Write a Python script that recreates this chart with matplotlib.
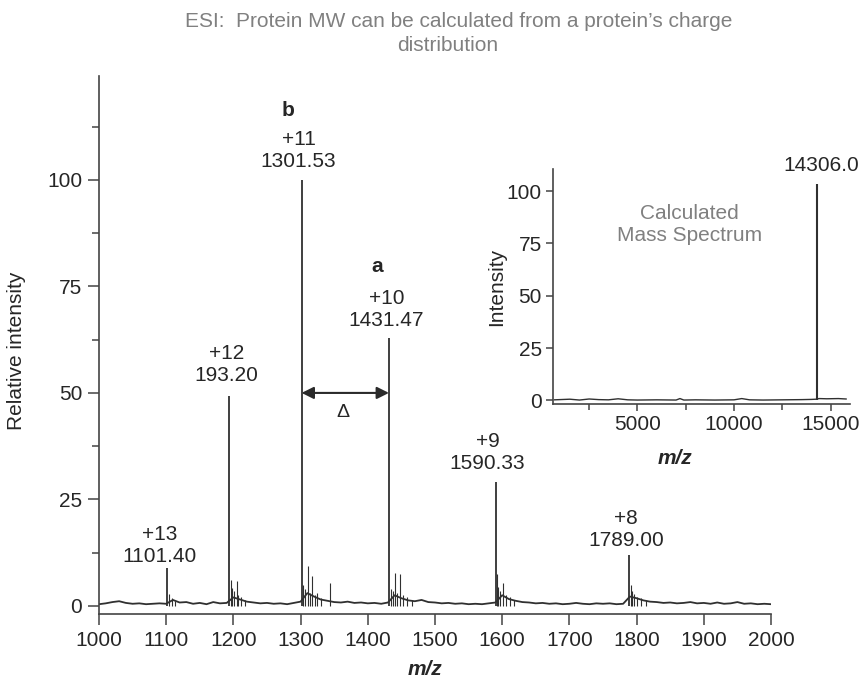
import matplotlib
matplotlib.use("Agg")
import matplotlib.pyplot as plt
from matplotlib.ticker import MultipleLocator, FixedLocator

plt.rcParams["font.family"] = ["Liberation Sans", "DejaVu Sans"]

TXT = "#262626"
GREY = "#808080"
LINE = "#303030"

# ── main spectrum: charge-state envelope ──────────────────────────────────────
peak_mz = [1101.40, 1193.20, 1301.53, 1431.47, 1590.33, 1789.00]
peak_int = [9.0, 49.3, 100.0, 63.0, 29.0, 12.0]
charges = ["+13", "+12", "+11", "+10", "+9", "+8"]
peak_text = ["1101.40", "193.20", "1301.53", "1431.47", "1590.33", "1789.00"]
label_x = [1090, 1190, 1297, 1428, 1578, 1784]
label_y = [14.2, 56.7, 106.8, 69.6, 36.0, 17.9]

# adduct / satellite peaks next to each charge state
minor_mz = [1104, 1108, 1113,
            1196, 1198.5, 1201, 1205, 1207, 1212, 1218,
            1304, 1306, 1310.5, 1314, 1317.5, 1321, 1325, 1330, 1343.5,
            1434, 1437, 1440, 1444, 1447.5, 1452, 1458, 1466,
            1592, 1594, 1597, 1601, 1605, 1611, 1618,
            1791, 1793, 1796, 1800, 1806, 1814]
minor_int = [2.8, 1.8, 1.2,
             6.0, 4.2, 3.5, 5.9, 2.5, 2.0, 1.5,
             5.0, 4.0, 9.4, 3.0, 7.0, 2.5, 3.0, 1.8, 5.4,
             4.0, 3.5, 7.7, 3.0, 7.5, 2.5, 2.0, 1.5,
             7.5, 4.5, 3.5, 5.4, 2.5, 2.0, 1.5,
             5.0, 3.5, 2.8, 2.2, 1.8, 1.4]

# baseline read every 10 m/z
base_mz = list(range(1000, 2001, 10))
base_int = [0.4, 0.6, 0.9, 1.1, 0.7, 0.5, 0.6, 0.4, 0.5, 0.6,
            0.5, 1.4, 0.8, 0.9, 0.5, 0.7, 0.4, 0.9, 0.6, 0.7,
            2.0, 1.5, 1.0, 0.8, 0.6, 0.7, 0.5, 0.6, 0.4, 0.7,
            1.0, 3.0, 2.2, 1.5, 1.2, 0.9, 0.8, 1.0, 0.7, 0.8,
            0.6, 0.7, 0.5, 0.8, 2.5, 1.8, 1.3, 1.1, 1.4, 0.9,
            0.8, 0.6, 0.7, 0.5, 0.6, 0.4, 0.5, 0.4, 0.6, 0.8,
            2.5, 1.6, 1.2, 0.9, 0.8, 0.6, 0.7, 0.5, 0.6, 0.4,
            0.5, 0.7, 0.5, 0.4, 0.6, 0.5, 0.6, 0.4, 0.5, 2.2,
            1.8, 1.3, 1.0, 0.9, 0.7, 0.8, 0.6, 0.7, 0.9, 0.6,
            0.7, 0.5, 0.8, 0.5, 0.6, 0.9, 0.5, 0.6, 0.4, 0.5, 0.4]

# ── inset: deconvoluted mass ──────────────────────────────────────────────────
mass_peak = 14306.0
mass_int = 103.5
inset_base_mz = [700, 1500, 2000, 2500, 3000, 3500, 4000, 4500, 5000, 6000,
                 7000, 7200, 7400, 8000, 9000, 10000, 10400, 10800, 11500,
                 12500, 13500, 14000, 14250, 14400, 14800, 15400, 15800]
inset_base_int = [0.3, 0.6, 0.2, 0.7, 0.4, 0.3, 0.8, 0.3, 0.2, 0.3,
                  0.2, 0.9, 0.2, 0.3, 0.2, 0.3, 0.9, 0.3, 0.2,
                  0.3, 0.4, 0.5, 0.6, 0.9, 0.8, 0.9, 0.7]

# ── canvas ────────────────────────────────────────────────────────────────────
fig = plt.figure(figsize=(8.63, 6.78), dpi=100)
ax = fig.add_axes([0.1147, 0.0944, 0.7787, 0.7935])

ax.plot(base_mz, base_int, color=LINE, lw=1.3)
ax.vlines(minor_mz, 0, minor_int, color=LINE, lw=0.8)
ax.vlines(peak_mz, 0, peak_int, color=LINE, lw=1.3)

ax.set_xlim(1000, 2000)
ax.set_ylim(-1.9, 124.4)
ax.xaxis.set_major_locator(MultipleLocator(100))
ax.yaxis.set_major_locator(FixedLocator([0, 25, 50, 75, 100]))
ax.yaxis.set_minor_locator(FixedLocator([12.5, 37.5, 62.5, 87.5, 112.5]))
ax.tick_params(axis="both", which="major", direction="out", length=8,
               width=1.1, color="#444444", labelsize=15, labelcolor=TXT, pad=4)
ax.tick_params(axis="y", which="minor", direction="out", length=5,
               width=1.1, color="#444444")
for s in ("top", "right"):
    ax.spines[s].set_visible(False)
for s in ("left", "bottom"):
    ax.spines[s].set_color("#444444")
    ax.spines[s].set_linewidth(1.2)

ax.text(-0.122, 0.489, "Relative intensity", transform=ax.transAxes,
        rotation=90, ha="center", va="center", fontsize=15, color=TXT)
ax.text(0.485, -0.103, "m/z", transform=ax.transAxes, ha="center",
        va="center", fontsize=15, fontweight="bold", fontstyle="italic",
        color=TXT)

for x, y, c, t in zip(label_x, label_y, charges, peak_text):
    ax.text(x, y, f"{c}\n{t}", ha="center", va="center", fontsize=15,
            color=TXT, linespacing=1.2)
ax.text(1282, 116.4, "b", ha="center", va="center", fontsize=15,
        fontweight="bold", color=TXT)
ax.text(1414, 79.6, "a", ha="center", va="center", fontsize=15,
        fontweight="bold", color=TXT)

ax.annotate("", xy=(peak_mz[2], 50), xytext=(peak_mz[3], 50),
            arrowprops=dict(arrowstyle="<|-|>", color="#2a2a2a", lw=1.5,
                            mutation_scale=18, shrinkA=0, shrinkB=0))
ax.text(1363, 45.5, "Δ", ha="center", va="center", fontsize=14, color=TXT)

# ── inset ─────────────────────────────────────────────────────────────────────
axi = fig.add_axes([0.6408, 0.4041, 0.3441, 0.3466])
axi.plot(inset_base_mz, inset_base_int, color=LINE, lw=1.0)
axi.vlines([mass_peak], 0, [mass_int], color=LINE, lw=1.5)
axi.set_xlim(630, 16000)
axi.set_ylim(-1.7, 110.5)
axi.xaxis.set_major_locator(FixedLocator([5000, 10000, 15000]))
axi.xaxis.set_minor_locator(FixedLocator([2500, 7500, 12500]))
axi.yaxis.set_major_locator(MultipleLocator(25))
axi.tick_params(axis="both", which="major", direction="out", length=5,
                width=1.1, color="#444444", labelsize=15, labelcolor=TXT, pad=3)
axi.tick_params(axis="x", which="minor", direction="out", length=4,
                width=1.1, color="#444444")
for s in ("top", "right"):
    axi.spines[s].set_visible(False)
for s in ("left", "bottom"):
    axi.spines[s].set_color("#444444")
    axi.spines[s].set_linewidth(1.2)
axi.patch.set_alpha(0)

axi.text(-0.19, 0.5, "Intensity", transform=axi.transAxes, rotation=90,
         ha="center", va="center", fontsize=15, color=TXT)
axi.text(0.41, -0.23, "m/z", transform=axi.transAxes, ha="center",
         va="center", fontsize=15, fontweight="bold", fontstyle="italic",
         color=TXT)
axi.text(mass_peak + 200, 112.4, "14306.0", ha="center", va="center",
         fontsize=15, color=TXT)
axi.text(7700, 83.8, "Calculated\nMass Spectrum", ha="center", va="center",
         fontsize=15, color=GREY, linespacing=1.2)

# ── title ─────────────────────────────────────────────────────────────────────
fig.text(0.532, 0.9676, "ESI:  Protein MW can be calculated from a protein’s charge",
         ha="center", va="center", fontsize=15, color=GREY)
fig.text(0.519, 0.9336, "distribution", ha="center", va="center",
         fontsize=15, color=GREY)

fig.savefig("out.png", dpi=100, facecolor="white")
